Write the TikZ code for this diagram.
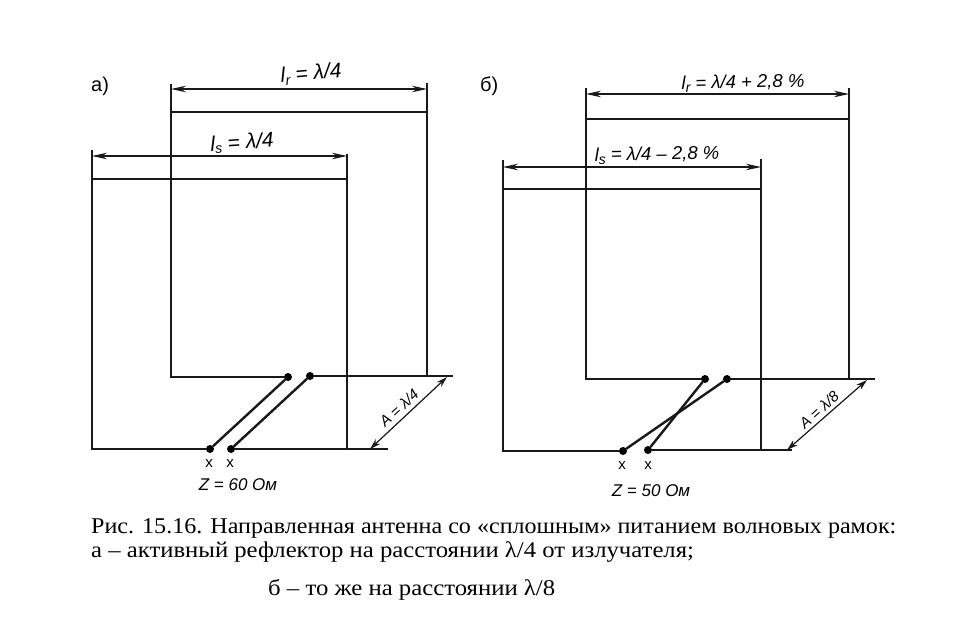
\documentclass[tikz,border=0pt]{standalone}
\usepackage{fontspec}
\setmainfont{Liberation Serif}
\newfontfamily\labfont{Liberation Sans}
\newfontfamily\capa[FakeStretch=1.07]{Liberation Serif}
\newfontfamily\capb[FakeStretch=1.098]{Liberation Serif}
\newfontfamily\capc[FakeStretch=1.10]{Liberation Serif}
\usetikzlibrary{arrows.meta}
\newcommand{\subl}[1]{\textit{l}\raisebox{-3pt}{\fontsize{14}{14}\selectfont #1}}
\tikzset{
  x=1pt,y=-1pt,
  wire/.style={line width=2.4pt,black!90,line cap=round},
  thinwire/.style={line width=1.2pt,black!90},
  dimline/.style={line width=1.2pt,black!90,{Stealth[length=15pt,width=6.5pt]}-{Stealth[length=15pt,width=6.5pt]}},
  dimlineb/.style={line width=1.2pt,black!90,{Stealth[length=11pt,width=6.5pt]}-{Stealth[length=11pt,width=6.5pt]}},
  termdot/.style={circle,fill=black,inner sep=0pt,minimum size=8pt},
  hand/.style={font=\labfont\itshape\fontsize{17}{17}\selectfont,inner sep=0pt,black},
  handb/.style={font=\labfont\itshape\fontsize{15}{15}\selectfont,inner sep=0pt,black},
  handc/.style={font=\labfont\itshape\fontsize{21}{21}\selectfont,inner sep=0pt,black},
  handd/.style={font=\labfont\itshape\fontsize{18.5}{18.5}\selectfont,inner sep=0pt,black},
  markx/.style={font=\labfont\fontsize{15}{15}\selectfont,inner sep=0pt,black},
  tagtext/.style={font=\labfont\fontsize{20}{20}\selectfont,inner sep=0pt,anchor=base west},
  captext/.style={inner sep=0pt,anchor=base west,black}
}
\begin{document}
\begin{tikzpicture}
\useasboundingbox[fill=white] (0,0) rectangle (964,624);
% ---- a) ----
\node[termdot] (a1) at (288,377) {};
\node[termdot] (a2) at (310,376) {};
\node[termdot] (a3) at (210,449) {};
\node[termdot] (a4) at (231,449) {};
\coordinate (arTL) at (171,112); \coordinate (arTR) at (427,112);
\coordinate (arBL) at (171,377); \coordinate (arBR) at (427,376);
\coordinate (arEnd) at (453,376);
\coordinate (aeTL) at (92,179); \coordinate (aeTR) at (347,179);
\coordinate (aeBL) at (92,449); \coordinate (aeBR) at (347,449);
\coordinate (aeEnd) at (388,449);
\coordinate (ad1) at (171,89); \coordinate (ad2) at (427,89);
\coordinate (ad3) at (92,156); \coordinate (ad4) at (347,156);
\coordinate (ax1) at (171,84); \coordinate (ax2) at (427,83);
\coordinate (ax3) at (92,150); \coordinate (ax4) at (347,154);
\coordinate (aA1) at (370,449); \coordinate (aA2) at (447,377);
\draw[wire] (a1) -- (arBL) -- (arTL) -- (arTR) -- (arBR);
\draw[wire] (a2) -- (arBR);
\draw[wire] (a3) -- (aeBL) -- (aeTL) -- (aeTR) -- (aeBR);
\draw[wire] (a4) -- (aeBR);
\draw[thinwire] (aeBR) -- (aeEnd);
\draw[thinwire] (arBR) -- (arEnd);
\draw[wire] (a1) -- (a3);
\draw[wire] (a2) -- (a4);
\draw[thinwire] (ax1) -- (arTL);
\draw[thinwire] (ax2) -- (arTR);
\draw[thinwire] (ax3) -- (aeTL);
\draw[thinwire] (ax4) -- (aeTR);
\draw[dimline] (ad1) -- (ad2);
\draw[dimline] (ad3) -- (ad4);
\draw[dimlineb] (aA1) -- (aA2);
\node[tagtext] (alabel) at (91,91) {a)};
\node[handc,rotate=5] (alr) at (311,74) {\subl{r} = λ/4};
\node[handc,rotate=4] (als) at (242,143) {\subl{s} = λ/4};
\node[handb,rotate=43] (aAl) at (399,408) {A = λ/4};
\node[markx] (ax) at (209,464) {x};
\node[markx] (axx) at (230,464) {x};
\node[hand] (az) at (238,485) {Z = 60 Ом};
% ---- б) ----
\node[termdot] (b1) at (705,379) {};
\node[termdot] (b2) at (727,379) {};
\node[termdot] (b3) at (623,451) {};
\node[termdot] (b4) at (648,450) {};
\coordinate (brTL) at (586,119); \coordinate (brTR) at (849,119);
\coordinate (brBL) at (586,379); \coordinate (brBR) at (849,379);
\coordinate (brEnd) at (875,379);
\coordinate (beTL) at (503,189); \coordinate (beTR) at (761,189);
\coordinate (beBL) at (503,451); \coordinate (beBR) at (761,450);
\coordinate (beEnd) at (792,450);
\coordinate (bd1) at (586,94); \coordinate (bd2) at (849,94);
\coordinate (bd3) at (503,167); \coordinate (bd4) at (761,167);
\coordinate (bx1) at (586,88); \coordinate (bx2) at (849,88);
\coordinate (bx3) at (503,160); \coordinate (bx4) at (761,159);
\coordinate (bA1) at (787,450); \coordinate (bA2) at (867,380);
\draw[wire] (b1) -- (brBL) -- (brTL) -- (brTR) -- (brBR);
\draw[wire] (b2) -- (brBR);
\draw[thinwire] (brBR) -- (brEnd);
\draw[wire] (b3) -- (beBL) -- (beTL) -- (beTR) -- (beBR);
\draw[wire] (b4) -- (beBR);
\draw[thinwire] (beBR) -- (beEnd);
\draw[wire] (b1) -- (b4);
\draw[wire] (b2) -- (b3);
\draw[thinwire] (bx1) -- (brTL);
\draw[thinwire] (bx2) -- (brTR);
\draw[thinwire] (bx3) -- (beTL);
\draw[thinwire] (bx4) -- (beTR);
\draw[dimline] (bd1) -- (bd2);
\draw[dimline] (bd3) -- (bd4);
\draw[dimlineb] (bA1) -- (bA2);
\node[tagtext] (blabel) at (480,91) {б)};
\node[handd,rotate=1] (blr) at (743,83) {\subl{r} = λ/4 + 2,8 \%};
\node[handd,rotate=1] (bls) at (657,155) {\subl{s} = λ/4 – 2,8 \%};
\node[handb,rotate=42] (bAl) at (819,410) {A = λ/8};
\node[markx] (bx) at (622,466) {x};
\node[markx] (bxx) at (648,466) {x};
\node[hand] (bz) at (651,491) {Z = 50 Ом};
% ---- caption ----
\node[captext,font=\capa\fontsize{22.5}{22.5}\selectfont] (c1) at (91,533.5) {Рис. 15.16. Направленная антенна со «сплошным» питанием волновых рамок:};
\node[captext,font=\capb\fontsize{22.5}{22.5}\selectfont] (c2) at (91,557) {а – активный рефлектор на расстоянии λ/4 от излучателя;};
\node[captext,font=\capc\fontsize{22.5}{22.5}\selectfont] (c3) at (268,595) {б – то же на расстоянии λ/8};
\end{tikzpicture}
\end{document}
